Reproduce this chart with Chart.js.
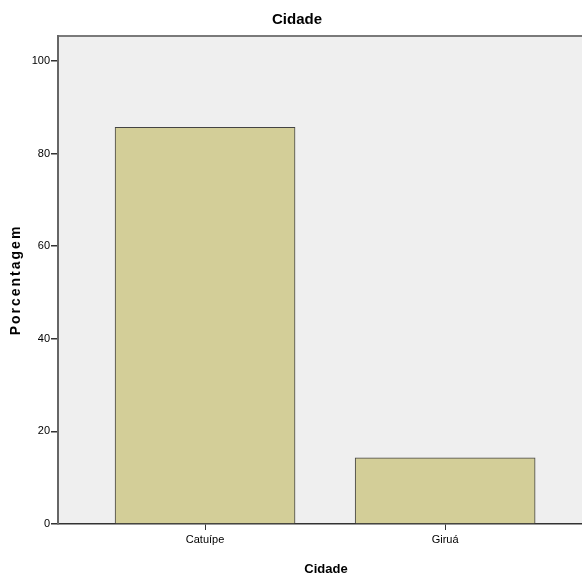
<!DOCTYPE html>
<html>
<head>
<meta charset="utf-8">
<script src="https://cdn.jsdelivr.net/npm/chart.js@4"></script>
<style>
  html, body { margin: 0; padding: 0; background: #fff; overflow: hidden; }
  #wrap { width: 600px; height: 579px; }
</style>
</head>
<body>
<div id="wrap"><canvas id="chart" width="600" height="579"></canvas></div>
<script>
// dados do gráfico
var cidades = ["Catuípe", "Giruá"];
var porcentagem = [85.7, 14.3];
var yTicks = [0, 20, 40, 60, 80, 100];

var narrow = "'Liberation Sans Narrow', 'Arial Narrow', 'Liberation Sans', Arial, sans-serif";
var bold = "'Liberation Sans', Arial, sans-serif";

// fundo cinza da área do gráfico + linha superior
var plotFrame = {
  id: 'plotFrame',
  beforeDraw: function(chart) {
    var a = chart.chartArea, ctx = chart.ctx;
    ctx.save();
    ctx.fillStyle = '#efefef';
    ctx.fillRect(a.left, a.top, a.right - a.left, a.bottom - a.top);
    ctx.strokeStyle = '#7a7a7a';
    ctx.lineWidth = 2;
    ctx.beginPath();
    ctx.moveTo(a.left, a.top);
    ctx.lineTo(a.right, a.top);
    ctx.stroke();
    ctx.restore();
    // título do eixo Y com espaçamento entre letras (estilo SPSS)
    var s = chart.scales.y;
    if (s && !s._spaced) {
      var orig = s.drawTitle;
      s.drawTitle = function() {
        var c = this.ctx;
        c.save();
        c.letterSpacing = '2px';
        orig.apply(this, arguments);
        c.restore();
      };
      s._spaced = true;
    }
  }
};

new Chart(document.getElementById('chart'), {
  type: 'bar',
  data: {
    datasets: [{
      data: cidades.map(function(c, i) { return { x: i, y: porcentagem[i] }; }),
      backgroundColor: '#d3ce98',
      borderColor: '#444',
      borderWidth: 1,
      barThickness: 180
    }]
  },
  options: {
    responsive: false,
    animation: false,
    layout: { padding: { left: 0, right: 6, top: 0, bottom: 0 } },
    plugins: {
      legend: { display: false },
      tooltip: { enabled: false },
      title: {
        display: true,
        text: 'Cidade',
        color: '#000',
        font: { family: bold, size: 15, weight: 'bold' },
        padding: { top: 11, bottom: 7 }
      }
    },
    scales: {
      x: {
        type: 'linear',
        offset: false,
        min: -0.6125,
        max: 1.62,
        afterBuildTicks: function(scale) {
          scale.ticks = cidades.map(function(c, i) { return { value: i }; });
        },
        afterFit: function(scale) { scale.height = 55; },
        ticks: {
          color: '#000',
          font: { family: narrow, size: 11 },
          padding: 3,
          maxRotation: 0,
          autoSkip: false,
          callback: function(v) { return cidades[v]; }
        },
        grid: { offset: false, drawOnChartArea: false, drawTicks: true, tickLength: 6, color: '#333', lineWidth: 1 },
        border: { display: true, color: '#333', width: 1.5 },
        title: {
          display: true,
          text: 'Cidade',
          color: '#000',
          font: { family: bold, size: 13, weight: 'bold' },
          padding: { top: 0, bottom: 2 }
        }
      },
      y: {
        min: 0,
        max: 105.4,
        afterBuildTicks: function(scale) {
          scale.ticks = yTicks.map(function(v) { return { value: v }; });
        },
        afterFit: function(scale) { scale.width = 58; },
        ticks: {
          color: '#000',
          font: { family: narrow, size: 11 },
          padding: 1
        },
        grid: { drawOnChartArea: false, drawTicks: true, tickLength: 7, color: '#333', lineWidth: 1.5 },
        border: { display: true, color: '#666', width: 2 },
        title: {
          display: true,
          text: 'Porcentagem',
          color: '#000',
          font: { family: bold, size: 14, weight: 'bold' },
          padding: { top: 8, bottom: 0 }
        }
      }
    }
  },
  plugins: [plotFrame]
});
</script>
</body>
</html>
